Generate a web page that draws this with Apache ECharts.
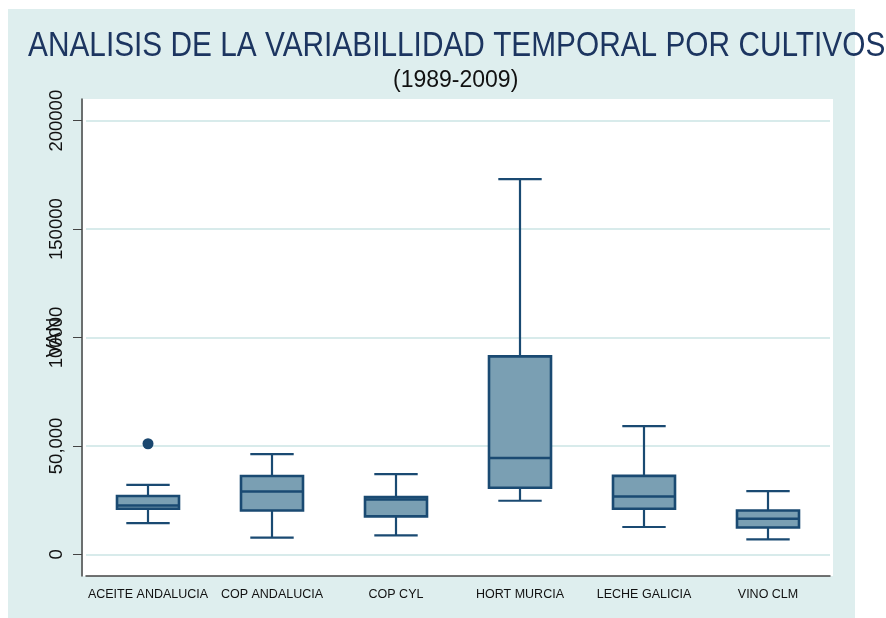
<!DOCTYPE html>
<html>
<head>
<meta charset="utf-8">
<script src="https://cdn.jsdelivr.net/npm/echarts@6/dist/echarts.min.js"></script>
<style>
html,body{margin:0;padding:0;background:#fff;}
#c{width:886px;height:618px;}
</style>
</head>
<body>
<div id="c"></div>
<script>
const categories = ['ACEITE ANDALUCIA', 'COP ANDALUCIA', 'COP CYL', 'HORT MURCIA', 'LECHE GALICIA', 'VINO CLM'];
// [lower whisker, Q1, median, Q3, upper whisker]
const lowWhisker = [14400, 7700, 8700, 24700, 12600, 6900];
const q1Values   = [21000, 20200, 17500, 30700, 21000, 12400];
const medians    = [22500, 29000, 25300, 44400, 26700, 16400];
const q3Values   = [26900, 36100, 26400, 91300, 36200, 20200];
const highWhisker= [32000, 46200, 37000, 173000, 59100, 29100];
const outliers   = [[0, 51000]];
const yTicks = [0, 50000, 100000, 150000, 200000];
const yTickLabels = ['0', '50,000', '100000', '150000', '200000'];
const titleText = 'ANALISIS DE LA VARIABILLIDAD TEMPORAL POR CULTIVOS';
const subtitleText = '(1989-2009)';

const boxData = categories.map((c, i) => [i, lowWhisker[i], q1Values[i], medians[i], q3Values[i], highWhisker[i]]);

const STROKE = '#1a4a72';
const FILL = '#7a9fb3';
const FONT = '"Liberation Sans", Arial, sans-serif';

const chart = echarts.init(document.getElementById('c'), null, {renderer: 'canvas'});
chart.setOption({
  backgroundColor: '#ffffff',
  animation: false,
  graphic: [
    {type: 'rect', z: -10, shape: {x: 8, y: 9, width: 847, height: 609}, style: {fill: '#deeeee'}},
    {type: 'rect', z: -9, shape: {x: 83, y: 99, width: 750, height: 477}, style: {fill: '#ffffff'}},
    {type: 'text', z: 10, x: 28, y: 29, scaleX: 0.852,
     style: {text: titleText, font: 'normal 35px ' + FONT, fill: '#1c3560', textVerticalAlign: 'top'}},
    {type: 'text', z: 10, x: 393, y: 69,
     style: {text: subtitleText, font: 'normal 23px ' + FONT, fill: '#111', textVerticalAlign: 'top'}}
  ],
  grid: {left: 86, right: 56, top: 99, bottom: 42},
  xAxis: {
    type: 'category', data: categories, boundaryGap: true,
    axisLine: {show: true, onZero: false, lineStyle: {color: '#444', width: 1.5}},
    axisTick: {show: false},
    axisLabel: {margin: 12, fontSize: 12.5, color: '#111', fontFamily: FONT, interval: 0},
    splitLine: {show: false}
  },
  yAxis: {
    type: 'value', min: -10000, max: 210000, offset: 4,
    name: 'VAN', nameLocation: 'middle', nameGap: 18, nameRotate: 90, nameMoveOverlap: false,
    nameTextStyle: {fontSize: 20, color: '#111', fontFamily: FONT},
    axisLine: {show: true, onZero: false, lineStyle: {color: '#444', width: 1.5}},
    axisTick: {show: true, length: 9, customValues: yTicks, lineStyle: {color: '#444'}},
    axisLabel: {show: true, rotate: 90, margin: 16, fontSize: 18.5, color: '#111',
      fontFamily: FONT, customValues: yTicks,
      formatter: v => { const k = yTicks.indexOf(v); return k >= 0 ? yTickLabels[k] : ''; }},
    splitLine: {show: true, lineStyle: {color: '#d8ebeb', width: 2}}
  },
  series: [
    {
      type: 'custom',
      data: boxData,
      encode: {x: 0, y: [1, 2, 3, 4, 5]},
      renderItem: function (params, api) {
        const i = api.value(0);
        const band = api.size([1, 0])[0];
        const bw = band * 0.5, cw = band * 0.35;
        const pLow = api.coord([i, api.value(1)]);
        const pQ1 = api.coord([i, api.value(2)]);
        const pMed = api.coord([i, api.value(3)]);
        const pQ3 = api.coord([i, api.value(4)]);
        const pHigh = api.coord([i, api.value(5)]);
        const x = pLow[0];
        const ls = {stroke: STROKE, lineWidth: 2.2};
        return {
          type: 'group',
          children: [
            {type: 'line', shape: {x1: x, y1: pHigh[1], x2: x, y2: pQ3[1]}, style: ls},
            {type: 'line', shape: {x1: x, y1: pQ1[1], x2: x, y2: pLow[1]}, style: ls},
            {type: 'line', shape: {x1: x - cw / 2, y1: pHigh[1], x2: x + cw / 2, y2: pHigh[1]}, style: ls},
            {type: 'line', shape: {x1: x - cw / 2, y1: pLow[1], x2: x + cw / 2, y2: pLow[1]}, style: ls},
            {type: 'rect', shape: {x: x - bw / 2, y: pQ3[1], width: bw, height: pQ1[1] - pQ3[1]},
             style: {fill: FILL, stroke: STROKE, lineWidth: 2.6}},
            {type: 'line', shape: {x1: x - bw / 2, y1: pMed[1], x2: x + bw / 2, y2: pMed[1]}, style: {stroke: STROKE, lineWidth: 2.6}}
          ]
        };
      }
    },
    {
      type: 'scatter',
      data: outliers,
      symbol: 'circle', symbolSize: 11,
      itemStyle: {color: '#1a476f', opacity: 1}
    }
  ]
});
</script>
</body>
</html>
